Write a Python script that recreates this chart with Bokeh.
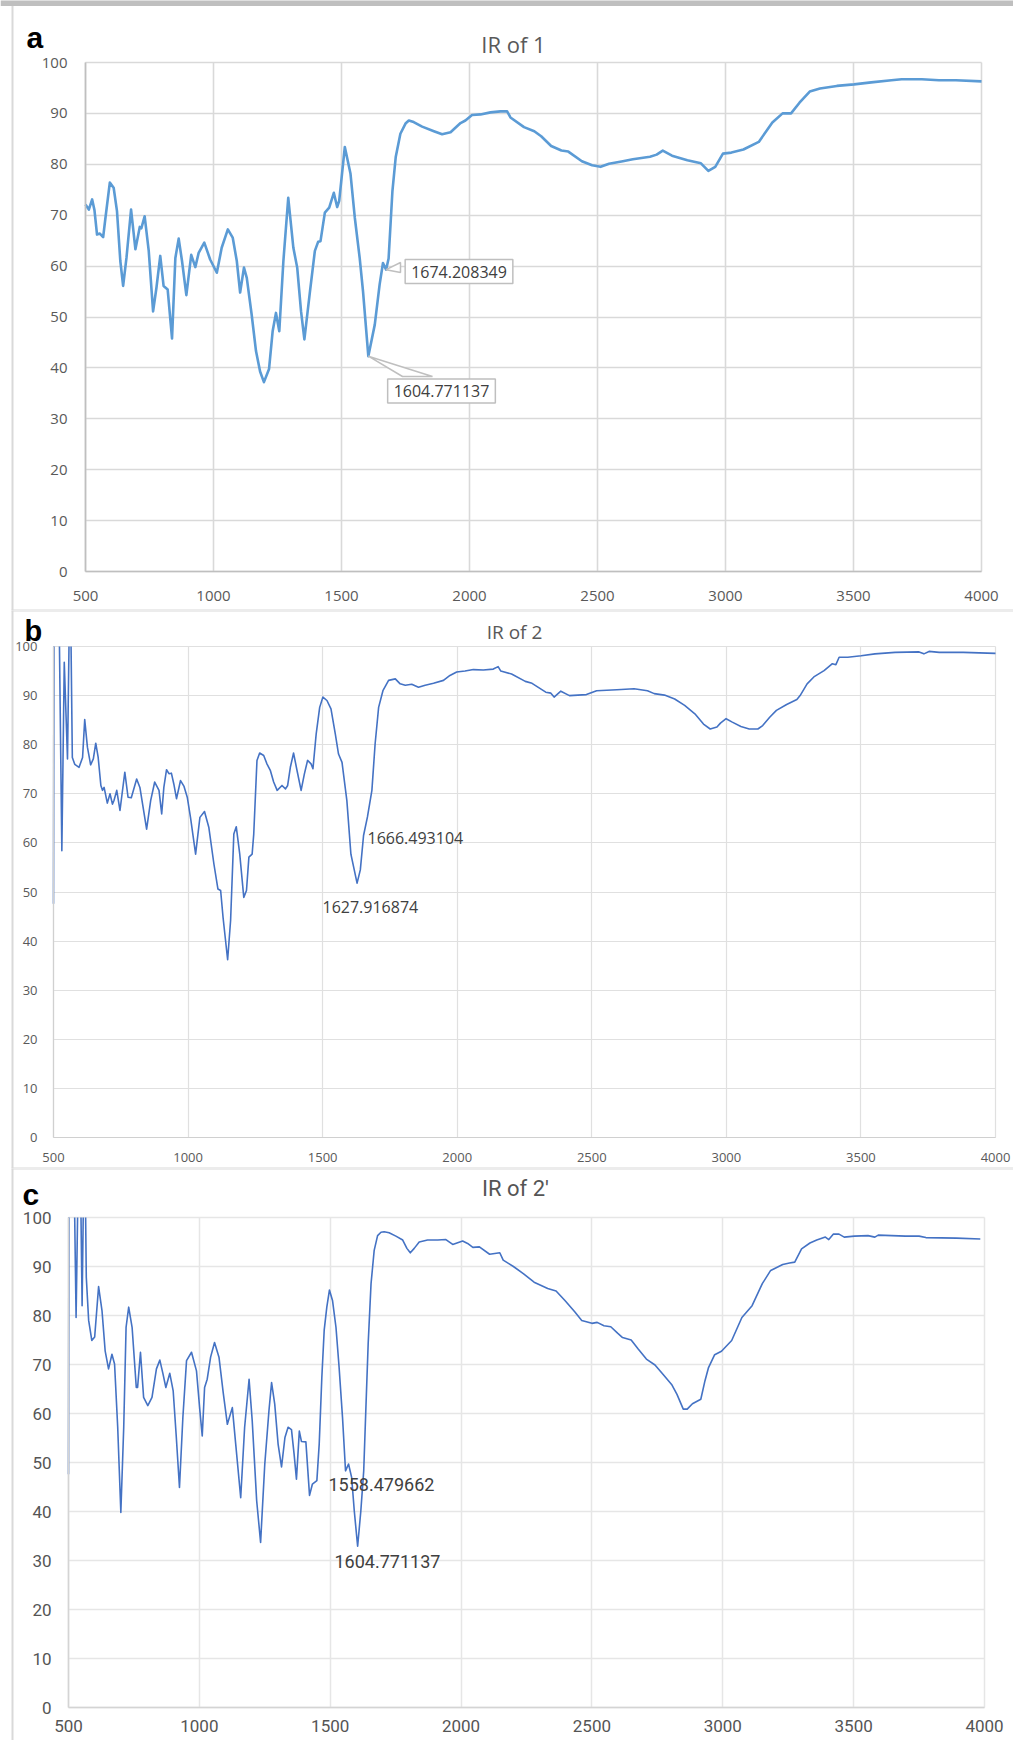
from bokeh.plotting import figure
from bokeh.models import Range1d, FixedTicker, Label, BoxAnnotation, LinearAxis, Grid
from bokeh.layouts import column
from bokeh.embed import file_html
from bokeh.resources import INLINE

# ---------------- data ----------------
x_ticks = [500, 1000, 1500, 2000, 2500, 3000, 3500, 4000]
y_ticks = [0, 10, 20, 30, 40, 50, 60, 70, 80, 90, 100]

a_wn = [500, 513, 526, 535, 545, 556, 569, 578, 595, 610, 623, 636, 647, 660, 678, 695, 712, 718, 731, 747,
        764, 777, 792, 805, 821, 838, 851, 864, 877, 894, 913, 929, 942, 964, 987, 1013, 1032, 1056, 1075, 1091,
        1104, 1119, 1130, 1149, 1166, 1182, 1197, 1217, 1231, 1244, 1257, 1273, 1292, 1312, 1327, 1342, 1355,
        1377, 1396, 1409, 1418, 1435, 1452, 1470, 1483, 1491, 1513, 1535, 1552, 1571, 1584, 1604.771137, 1630,
        1649, 1662, 1674.208349, 1684, 1699, 1712, 1730, 1750, 1763, 1782, 1815, 1861, 1893, 1926, 1965, 1984,
        2010, 2043, 2082, 2121, 2147, 2160, 2213, 2253, 2280, 2319, 2359, 2386, 2439, 2479, 2512, 2545, 2599,
        2638, 2705, 2731, 2755, 2791, 2851, 2904, 2933, 2960, 2990, 3023, 3070, 3130, 3183, 3223, 3256, 3289,
        3329, 3369, 3435, 3502, 3569, 3648, 3688, 3767, 3834, 3900, 4000]
a_tr = [72.1, 71.1, 73.1, 71.0, 66.2, 66.4, 65.7, 69.5, 76.4, 75.4, 70.8, 61.0, 56.1, 61.6, 71.1, 63.3, 67.7, 67.4,
        69.8, 63.0, 51.1, 55.7, 62.0, 56.1, 55.4, 45.8, 61.6, 65.4, 61.0, 54.3, 62.2, 59.8, 62.6, 64.6, 61.3, 58.7,
        63.6, 67.2, 65.6, 61.0, 54.8, 59.7, 57.7, 50.5, 43.3, 39.3, 37.2, 39.8, 47.2, 50.8, 47.2, 61.0, 73.4, 63.6,
        59.7, 51.1, 45.6, 55.1, 63.0, 64.8, 64.9, 70.5, 71.5, 74.4, 71.6, 72.8, 83.4, 78.2, 69.5, 61.6, 55.1, 42.3,
        48.5, 56.4, 60.6, 59.3, 61.5, 74.8, 81.5, 86.0, 88.0, 88.6, 88.3, 87.4, 86.5, 85.9, 86.3, 88.1, 88.6, 89.7,
        89.8, 90.2, 90.4, 90.4, 89.2, 87.3, 86.5, 85.5, 83.6, 82.7, 82.5, 80.6, 79.8, 79.5, 80.1, 80.6, 81.0, 81.5,
        81.9, 82.7, 81.7, 80.8, 80.2, 78.7, 79.5, 82.1, 82.3, 82.9, 84.4, 88.2, 90.0, 90.0, 92.1, 94.3, 94.9, 95.4,
        95.7, 96.1, 96.5, 96.7, 96.7, 96.5, 96.5, 96.3]

b_wn = [500, 502, 519, 531, 540, 552, 559, 564, 570, 579, 595, 608, 616, 626, 638, 648, 657, 666, 676, 682, 688,
        700, 710, 719, 725, 735, 747, 765, 777, 789, 809, 821, 846, 861, 876, 892, 902, 910, 920, 929, 938, 947,
        957, 972, 985, 997, 1009, 1028, 1044, 1061, 1077, 1096, 1111, 1121, 1130, 1147, 1158, 1170, 1179, 1192,
        1207, 1217, 1226, 1238, 1244, 1256, 1266, 1281, 1293, 1306, 1318, 1331, 1349, 1362, 1370, 1380, 1392,
        1405, 1420, 1432, 1444, 1457, 1464, 1476, 1489, 1501, 1516, 1531, 1547, 1559, 1572, 1590, 1605,
        1627.916874, 1640, 1652, 1666.493104, 1683, 1695, 1708, 1724, 1745, 1770, 1788, 1807, 1831, 1856, 1881,
        1912, 1949, 1973, 1998, 2029, 2060, 2097, 2134, 2152, 2162, 2202, 2253, 2278, 2329, 2348, 2360, 2385,
        2417, 2480, 2518, 2593, 2657, 2707, 2732, 2770, 2808, 2845, 2883, 2915, 2940, 2965, 2978, 2999, 3022,
        3054, 3085, 3117, 3135, 3161, 3186, 3224, 3262, 3274, 3300, 3325, 3363, 3394, 3407, 3419, 3451, 3501,
        3552, 3627, 3716, 3734, 3753, 3791, 3880, 4000]
b_tr = [47.6, 115, 115, 58.4, 96.8, 77.1, 106, 106, 77.4, 76.0, 75.4, 77.4, 85.1, 79.5, 75.9, 77.1, 80.3, 77.4,
        71.7, 70.7, 71.3, 68.1, 70.0, 67.9, 68.7, 70.7, 66.6, 74.4, 69.3, 69.2, 73.0, 71.3, 62.8, 68.6, 72.4, 70.7,
        65.9, 71.3, 74.9, 74.1, 74.2, 72.0, 69.0, 72.7, 71.5, 69.3, 65.2, 57.7, 65.2, 66.4, 63.2, 55.7, 50.6, 50.3,
        44.8, 36.2, 44.2, 61.8, 63.3, 57.7, 48.9, 50.3, 57.1, 57.7, 61.8, 76.8, 78.3, 77.8, 76.1, 74.7, 72.4, 70.7,
        71.7, 71.0, 71.7, 75.4, 78.3, 74.7, 70.7, 74.0, 76.8, 76.1, 75.1, 82.2, 87.6, 89.7, 89.0, 87.3, 82.2, 78.1,
        76.4, 68.6, 57.7, 51.8, 54.5, 61.5, 65.3, 70.7, 80.2, 87.6, 91.0, 93.1, 93.4, 92.4, 92.1, 92.3, 91.7, 92.1,
        92.5, 93.1, 94.1, 94.8, 95.0, 95.3, 95.2, 95.4, 95.9, 95.0, 94.4, 92.9, 92.5, 90.7, 90.5, 89.7, 90.9, 90.0,
        90.2, 91.0, 91.2, 91.4, 91.0, 90.4, 90.1, 89.3, 88.0, 86.3, 84.2, 83.2, 83.6, 84.4, 85.3, 84.6, 83.7, 83.2,
        83.2, 83.9, 85.6, 87.0, 88.2, 89.2, 90.0, 92.4, 93.8, 95.1, 96.5, 96.3, 97.8, 97.8, 98.1, 98.5, 98.8, 98.9,
        98.5, 99.0, 98.8, 98.8, 98.6]

c_wn = [500, 502, 519, 529, 538, 545, 552, 559, 563, 568, 577, 589, 600, 615, 628, 640, 653, 666, 676, 688, 700,
        711, 720, 730, 743, 759, 764, 775, 787, 803, 819, 836, 849, 861, 872, 887, 900, 912, 924, 937, 951, 970,
        989, 1002, 1011, 1020, 1030, 1043, 1058, 1075, 1091, 1107, 1126, 1139, 1158, 1173, 1190, 1202, 1219, 1234,
        1250, 1266, 1276, 1288, 1301, 1314, 1327, 1339, 1352, 1362, 1371, 1382, 1390, 1407, 1421, 1432, 1449,
        1458, 1468, 1477, 1487, 1497, 1509, 1522, 1534, 1547, 1558.479662, 1570, 1582, 1592, 1604.771137, 1617,
        1628, 1636, 1645, 1656, 1668, 1681, 1694, 1706, 1725, 1751, 1777, 1793, 1806, 1821, 1840, 1872, 1911,
        1942, 1968, 2006, 2025, 2045, 2070, 2109, 2148, 2161, 2200, 2239, 2279, 2331, 2363, 2396, 2435, 2461,
        2500, 2520, 2546, 2572, 2598, 2617, 2650, 2676, 2708, 2741, 2773, 2806, 2825, 2849, 2864, 2884, 2916,
        2932, 2945, 2969, 2995, 3034, 3073, 3112, 3151, 3183, 3229, 3255, 3275, 3301, 3333, 3359, 3392, 3405,
        3422, 3444, 3464, 3503, 3555, 3581, 3594, 3698, 3750, 3776, 3893, 3984]
c_tr = [47.6, 118, 118, 79.6, 112, 112, 82.0, 112, 112, 87.8, 79.0, 74.9, 75.6, 85.9, 81.0, 72.8, 69.1, 72.1, 70.1,
        57.2, 39.8, 57.2, 77.6, 81.7, 77.6, 65.3, 65.3, 72.5, 63.3, 61.6, 63.3, 69.1, 70.9, 68.1, 65.3, 68.2, 64.6,
        55.1, 44.9, 59.2, 70.8, 72.5, 68.7, 60.6, 55.4, 65.3, 67.0, 71.5, 74.5, 71.5, 64.3, 57.8, 61.2, 53.7, 42.8,
        57.2, 67.0, 58.5, 42.2, 33.7, 49.7, 60.6, 66.3, 61.9, 53.7, 49.1, 55.1, 57.2, 56.7, 51.7, 46.6, 56.4, 54.3,
        54.2, 43.3, 45.6, 46.3, 53.8, 67.4, 77.0, 81.7, 85.2, 83.0, 77.6, 69.4, 59.2, 48.3, 49.7, 46.9, 40.1, 32.9,
        40.1, 48.3, 60.6, 74.2, 86.5, 93.3, 96.3, 97.0, 97.1, 96.9, 96.2, 95.4, 93.7, 92.8, 93.7, 95.0, 95.4, 95.4,
        95.5, 94.5, 95.2, 94.7, 93.9, 94.0, 92.5, 92.8, 91.3, 90.0, 88.5, 86.8, 85.5, 85.0, 83.1, 80.7, 79.0, 78.4,
        78.6, 77.9, 77.7, 76.4, 75.5, 75.0, 73.2, 71.1, 69.9, 67.9, 65.8, 63.9, 60.9, 60.9, 62.0, 62.9, 66.7, 69.3,
        72.0, 72.7, 74.9, 79.6, 82.0, 86.5, 89.2, 90.4, 90.7, 90.9, 93.6, 94.8, 95.4, 96.0, 95.5, 96.6, 96.6, 96.0,
        96.2, 96.3, 96.0, 96.4, 96.2, 96.2, 95.9, 95.8, 95.6]

titles = ["IR of 1", "IR of 2", "IR of 2'"]
panel_letters = ["a", "b", "c"]
a_marks = [1674.208349, 1604.771137]
b_marks = [1666.493104, 1627.916874]
c_marks = [1558.479662, 1604.771137]

# ---------------- geometry (page pixels) ----------------
W = 1013
X0, X1 = 500, 4000
Y0, Y1 = 0, 100
BORDER = "#d9d9d9"
NAN = float("nan")


def clip_top(xs, ys, top=Y1):
    """Cut the polyline where it leaves the plotting area (value axis max), like the chart's own clipping."""
    ox, oy = [], []
    for i in range(len(xs)):
        x, y = xs[i], ys[i]
        if i > 0:
            xp, yp = xs[i - 1], ys[i - 1]
            if (yp <= top) != (y <= top):
                xc = xp + (top - yp) * (x - xp) / (y - yp)
                ox.append(xc)
                oy.append(top)
                if y > top:
                    ox.append(NAN)
                    oy.append(NAN)
        if y <= top:
            ox.append(x)
            oy.append(y)
    return ox, oy


class Panel:
    def __init__(self, top, bottom, frame, tick_font, tick_size, tick_color, grid_color, grid_w,
                 axis_color, ystand, xstand):
        self.top, self.bottom = top, bottom
        self.fx0, self.fx1, self.fy0, self.fy1 = frame
        p = figure(width=W, height=bottom - top, output_backend="svg", toolbar_location=None, tools="",
                   x_range=Range1d(self.dx(0), self.dx(W)),
                   y_range=Range1d(self.dy(bottom), self.dy(top)),
                   x_axis_location=None, y_axis_location=None,
                   min_border_left=0, min_border_right=0, min_border_top=0, min_border_bottom=0)
        p.center = [r for r in p.center if not isinstance(r, Grid)]
        p.outline_line_color = None
        p.background_fill_color = "white"
        p.border_fill_color = "white"
        for dim, tk, bnd, cb in ((0, x_ticks, (X0, X1), (Y0, Y1)), (1, y_ticks, (Y0, Y1), (X0, X1))):
            p.add_layout(Grid(dimension=dim, ticker=FixedTicker(ticks=tk), bounds=bnd, cross_bounds=cb,
                              grid_line_color=grid_color, grid_line_width=grid_w), "center")
        xa = LinearAxis(fixed_location=Y0, bounds=(X0, X1), ticker=FixedTicker(ticks=x_ticks))
        ya = LinearAxis(fixed_location=X0, bounds=(Y0, Y1), ticker=FixedTicker(ticks=y_ticks))
        for ax, st in ((xa, xstand), (ya, ystand)):
            ax.major_tick_line_color = None
            ax.minor_tick_line_color = None
            ax.major_tick_out = 0
            ax.major_tick_in = 0
            ax.axis_line_color = axis_color
            ax.axis_line_width = grid_w
            ax.major_label_text_font = tick_font
            ax.major_label_text_font_size = tick_size
            ax.major_label_text_color = tick_color
            ax.major_label_standoff = st
        p.add_layout(xa, "below")
        p.add_layout(ya, "left")
        self.p = p

    # page pixel -> data
    def dx(self, px):
        return X0 + (px - self.fx0) / (self.fx1 - self.fx0) * (X1 - X0)

    def dy(self, py):
        return Y0 + (self.fy1 - py) / (self.fy1 - self.fy0) * (Y1 - Y0)

    def text(self, px, py, text, font, size, color, align="left", baseline="middle", bold=False, **kw):
        self.p.add_layout(Label(x=self.dx(px), y=self.dy(py), text=text, text_font=font,
                                text_font_size=size, text_color=color, text_align=align,
                                text_baseline=baseline, text_font_style="bold" if bold else "normal", **kw))

    def box(self, px0, px1, py0, py1, color=BORDER):
        self.p.add_layout(BoxAnnotation(left=self.dx(px0), right=self.dx(px1), top=self.dy(py0),
                                        bottom=self.dy(py1), fill_color=color, fill_alpha=1.0,
                                        line_color=None))

    def series(self, xs, ys, color, width):
        cx, cy = clip_top(xs, ys)
        self.p.line(cx, cy, line_color=color, line_width=width, line_join="round")


# ---------------- panel a ----------------
A = Panel(0, 610, (85, 981, 62, 571), "Open Sans", "15px", "#595959", "#d9d9d9", 1.6, "#bfbfbf", 18, 19)
A.box(0, W + 2, -2, 5.5, color="#bfbfbf")
A.box(11, 13, 5.5, 612)
A.box(11, W + 2, 609, 612)
A.series(a_wn, a_tr, "#5B9BD5", 2.6)
A.p.patch([a_marks[0], A.dx(400), A.dx(400)], [59.3, A.dy(262), A.dy(272)],
          fill_color="white", line_color="#bfbfbf", line_width=1.5)
A.p.patch([a_marks[1], A.dx(402), A.dx(432)], [42.3, A.dy(376), A.dy(376)],
          fill_color="white", line_color="#bfbfbf", line_width=1.5)
A.text(458.5, 271, f"{a_marks[0]:.6f}", "Open Sans", "16px", "#404040", align="center",
       background_fill_color="white", border_line_color="#bfbfbf", border_line_width=1.5, padding=6)
A.text(441, 390.5, f"{a_marks[1]:.6f}", "Open Sans", "16px", "#404040", align="center",
       background_fill_color="white", border_line_color="#bfbfbf", border_line_width=1.5, padding=6)
A.text(513, 43, titles[0], "Open Sans", "22px", "#595959", align="center")
A.text(26, 37, panel_letters[0], "Liberation Sans", "30px", "black", baseline="alphabetic", bold=True)

# ---------------- panel b ----------------
B = Panel(610, 1168, (53, 995, 646, 1137), "Open Sans", "13px", "#595959", "#e0e0e0", 1.2, "#d0d0d0", 16, 15)
B.box(11, 13, 608, 1170)
B.box(11, W + 2, 608, 611)
B.box(11, W + 2, 1167, 1170)
B.series(b_wn, b_tr, "#4472C4", 1.6)
B.text(367, 837, f"{b_marks[0]:.6f}", "Open Sans", "16px", "#404040")
B.text(322, 906, f"{b_marks[1]:.6f}", "Open Sans", "16px", "#404040")
B.text(514, 631, titles[1], "Open Sans", "19px", "#595959", align="center")
B.text(24, 630, panel_letters[1], "Liberation Sans", "29px", "black", baseline="alphabetic", bold=True)

# ---------------- panel c ----------------
C = Panel(1168, 1740, (68, 984, 1217, 1707), "Roboto", "17px", "#555555", "#e6e6e6", 1.5, "#d4d4d4", 17, 12)
C.box(11, 13, 1166, 1742)
C.box(11, W + 2, 1166, 1169)
C.series(c_wn, c_tr, "#4472C4", 1.6)
C.text(328, 1484, f"{c_marks[0]:.6f}", "Roboto", "18px", "#404040")
C.text(334, 1561, f"{c_marks[1]:.6f}", "Roboto", "18px", "#404040")
C.text(515, 1188, titles[2], "Roboto", "22px", "#555555", align="center")
C.text(22, 1194, panel_letters[2], "Liberation Sans", "30px", "black", baseline="alphabetic", bold=True)

layout = column(A.p, B.p, C.p, spacing=0)
open("out.html", "w").write(file_html(layout, INLINE))
